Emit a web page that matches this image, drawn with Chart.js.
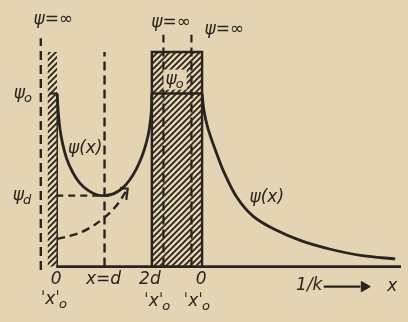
<!DOCTYPE html>
<html>
<head>
<meta charset="utf-8">
<script src="https://cdn.jsdelivr.net/npm/chart.js@4"></script>
<style>
  html,body{margin:0;padding:0;background:#e4d4b3;}
  #wrap{width:408px;height:322px;position:relative;}
</style>
</head>
<body>
<div id="wrap"><canvas id="c"></canvas></div>
<script>
// ---- data (x in units of d, psi in units of psi0) ----
const psi0 = 1.0;
const psiD = 0.41;
const dPos = 1;
const wallTop = 1.24;
const leftWallX = [-0.18, 0.02];
const blockX = [1.98, 3.02];
const infLinesX = [-0.32, 2.22, 2.8];
const uCurveX = [0.02, 0.04, 0.08, 0.14, 0.22, 0.34, 0.48, 0.66, 0.84, 1.0, 1.18, 1.36, 1.52, 1.66, 1.78, 1.87, 1.93, 1.97, 1.98];
const uCurveY = [1.0, 0.90, 0.79, 0.70, 0.62, 0.545, 0.485, 0.44, 0.415, 0.41, 0.42, 0.45, 0.50, 0.565, 0.64, 0.72, 0.80, 0.90, 1.0];
const tailX = [3.02, 3.06, 3.14, 3.28, 3.48, 3.74, 4.08, 4.54, 5.08, 5.68, 6.34, 7.02];
const tailY = [1.0, 0.90, 0.80, 0.685, 0.541, 0.400, 0.290, 0.212, 0.148, 0.100, 0.063, 0.044];
const dashCurveX = [0.02, 0.32, 0.64, 0.98, 1.24, 1.48];
const dashCurveY = [0.16, 0.18, 0.215, 0.28, 0.35, 0.45];
const axisEndX = 7.14;

const INK = '#2a2420';
const PAPER = '#e4d4b3';

function pts(xs, ys){ return xs.map((x,i)=>({x, y: ys[i]})); }

function hatch(){
  const c = document.createElement('canvas');
  c.width = 6; c.height = 6;
  const g = c.getContext('2d');
  g.strokeStyle = INK; g.lineWidth = 1.8;
  g.beginPath();
  g.moveTo(-1,7); g.lineTo(7,-1);
  g.moveTo(-1,1); g.lineTo(1,-1);
  g.moveTo(5,7); g.lineTo(7,5);
  g.stroke();
  return g.createPattern(c,'repeat');
}
const pat = hatch();

const base = {showLine:true, pointRadius:0, borderColor:INK, fill:false, tension:0};

const datasets = [
  // left wall hatch
  {...base, data: pts(leftWallX, [wallTop, wallTop]), fill:'origin', backgroundColor: pat, borderWidth:0},
  {...base, data: [{x:leftWallX[1], y:0},{x:leftWallX[1], y:psi0}], borderWidth:1.5},
  // middle block
  {...base, data: [{x:blockX[0],y:0},{x:blockX[0],y:wallTop},{x:blockX[1],y:wallTop},{x:blockX[1],y:0}], fill:'origin', backgroundColor: pat, borderWidth:2.4},
  // psi = infinity dashed lines
  {...base, data: [{x:infLinesX[0],y:-0.02},{x:infLinesX[0],y:1.32}], borderWidth:2.4, borderDash:[9,5]},
  {...base, data: [{x:infLinesX[1],y:0},{x:infLinesX[1],y:1.34}], borderWidth:2.2, borderDash:[9,5]},
  {...base, data: [{x:infLinesX[2],y:0},{x:infLinesX[2],y:1.34}], borderWidth:2.2, borderDash:[9,5]},
  // x = d dashed
  {...base, data: [{x:dPos,y:0},{x:dPos,y:wallTop}], borderWidth:2.4, borderDash:[9,5]},
  // psi_d dashed horizontal
  {...base, data: [{x:0,y:psiD},{x:dPos+0.1,y:psiD}], borderWidth:2.2, borderDash:[7,5]},
  // dashed rising curve with arrow
  {...base, data: pts(dashCurveX, dashCurveY), borderWidth:2.4, borderDash:[8,5], tension:0.4},
  {...base, data: [{x:1.32,y:0.455},{x:1.48,y:0.45},{x:1.45,y:0.385}], borderWidth:2.2},
  // psi0 marks
  {...base, data: [{x:-0.14,y:psi0},{x:0.02,y:psi0}], borderWidth:2.2},
  {...base, data: [{x:blockX[0],y:psi0},{x:blockX[1],y:psi0}], borderWidth:2.4},
  // solid curves
  {...base, data: pts(uCurveX, uCurveY), borderWidth:2.8, tension:0.3},
  {...base, data: pts(tailX, tailY), borderWidth:2.8, tension:0.3},
  // x axis
  {...base, data: [{x:0,y:0},{x:axisEndX,y:0}], borderWidth:2.8},
  // 1/k arrow
  {...base, data: [{x:5.54,y:-0.116},{x:6.3,y:-0.116}], borderWidth:2.4},
  {...base, showLine:false, data: [{x:6.38,y:-0.116}], pointRadius:6, pointStyle:'triangle', rotation:90, pointBackgroundColor:INK, pointBorderColor:INK},
];

const annotations = [
  {t:'ψ=∞', x:-0.06, y:1.43},
  {t:'ψ=∞', x:2.38, y:1.41},
  {t:'ψ=∞', x:3.48, y:1.37},
  {t:'ψ', s:'o', x:-0.68, y:1.0},
  {t:'ψ', s:'o', x:2.46, y:1.08, clear:true},
  {t:'ψ', s:'d', x:-0.7, y:0.41},
  {t:'ψ(x)', x:0.6, y:0.68},
  {t:'ψ(x)', x:4.36, y:0.40},
  {t:'0', x:0.0, y:-0.075},
  {t:'ˈxˈ', s:'o', x:-0.04, y:-0.19},
  {t:'x=d', x:0.98, y:-0.078},
  {t:'2d', x:1.94, y:-0.078},
  {t:'ˈxˈ', s:'o', x:2.1, y:-0.2},
  {t:'0', x:3.0, y:-0.075},
  {t:'ˈxˈ', s:'o', x:2.92, y:-0.2},
  {t:'1/k', x:5.24, y:-0.112},
  {t:'x', x:6.96, y:-0.116},
];

const FONT = 'italic 17px "DejaVu Sans"';
const SUBFONT = 'italic 13px "DejaVu Sans"';

const textPlugin = {
  id:'txt',
  beforeDraw(chart){
    const ctx = chart.ctx;
    ctx.save(); ctx.fillStyle = PAPER; ctx.fillRect(0,0,chart.width,chart.height); ctx.restore();
  },
  afterDatasetsDraw(chart){
    const ctx = chart.ctx, xs = chart.scales.x, ys = chart.scales.y;
    ctx.save();
    ctx.textBaseline = 'middle';
    ctx.textAlign = 'left';
    annotations.forEach(a=>{
      const px = xs.getPixelForValue(a.x), py = ys.getPixelForValue(a.y);
      ctx.font = FONT;
      const w1 = ctx.measureText(a.t).width;
      let w2 = 0;
      if (a.s){ ctx.font = SUBFONT; w2 = ctx.measureText(a.s).width; }
      const x0 = px - (w1+w2)/2;
      if (a.clear){
        ctx.fillStyle = PAPER;
        ctx.fillRect(x0-2, py-10, w1+w2+4, 20);
      }
      ctx.fillStyle = '#2a2420';
      ctx.font = FONT;
      ctx.fillText(a.t, x0, py);
      if (a.s){ ctx.font = SUBFONT; ctx.fillText(a.s, x0+w1-1, py+5); }
    });
    ctx.restore();
  }
};

new Chart(document.getElementById('c'), {
  type:'scatter',
  data:{datasets},
  options:{
    responsive:true, maintainAspectRatio:false, animation:false,
    layout:{padding:0},
    plugins:{legend:{display:false}, tooltip:{enabled:false}},
    scales:{
      x:{type:'linear', min:-1.02, max:7.14, display:false},
      y:{type:'linear', min:-0.28, max:1.5, display:false}
    }
  },
  plugins:[textPlugin]
});
</script>
</body>
</html>
